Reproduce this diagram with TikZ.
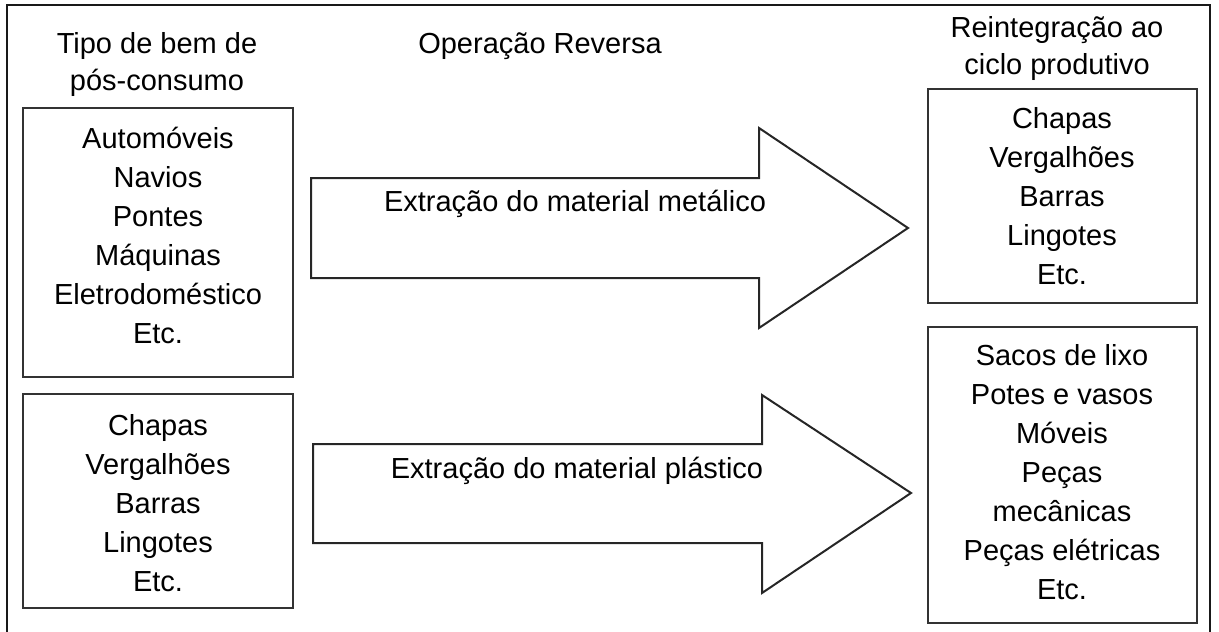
\documentclass[tikz,border=0pt]{standalone}
\usepackage{fontspec}
\setmainfont{Liberation Sans}
\begin{document}
\begin{tikzpicture}[x=1pt,y=-1pt,
  boxst/.style={draw=black!80,line width=2.2pt},
  arrowst/.style={draw=black!85,line width=2pt,line join=miter},
  txt/.style={anchor=base,inner sep=0pt,font=\fontsize{29}{39}\selectfont},
  hdr/.style={anchor=base,inner sep=0pt,font=\fontsize{29}{37}\selectfont}]
\useasboundingbox (0,0) rectangle (1219,632);
% outer frame (bottom edge lies outside the picture)
\draw[line width=2pt,black!90] (7,640) -- (7,5) -- (1210,5) -- (1210,640);
% headers
\node[hdr] (h1) at (157,53) {\renewcommand\arraystretch{1}\begin{tabular}[t]{@{}c@{}}Tipo de bem de\\pós-consumo\end{tabular}};
\node[hdr] (h2) at (540,53) {Operação Reversa};
\node[hdr] (h3) at (1057,37) {\renewcommand\arraystretch{1}\begin{tabular}[t]{@{}c@{}}Reintegração ao\\ciclo produtivo\end{tabular}};
% boxes
\draw[boxst] (23,108) rectangle (293,377);
\draw[boxst] (23,394) rectangle (293,608);
\draw[boxst] (928,89) rectangle (1197,303);
\draw[boxst] (928,327) rectangle (1197,623);
% box texts
\node[txt] (l1) at (158,148) {\renewcommand\arraystretch{1}\begin{tabular}[t]{@{}c@{}}Automóveis\\Navios\\Pontes\\Máquinas\\Eletrodoméstico\\Etc.\end{tabular}};
\node[txt] (l2) at (158,435) {\renewcommand\arraystretch{1}\begin{tabular}[t]{@{}c@{}}Chapas\\Vergalhões\\Barras\\Lingotes\\Etc.\end{tabular}};
\node[txt] (r1) at (1062,128) {\renewcommand\arraystretch{1}\begin{tabular}[t]{@{}c@{}}Chapas\\Vergalhões\\Barras\\Lingotes\\Etc.\end{tabular}};
\node[txt] (r2) at (1062,365) {\renewcommand\arraystretch{1}\begin{tabular}[t]{@{}c@{}}Sacos de lixo\\Potes e vasos\\Móveis\\Peças\\mecânicas\\Peças elétricas\\Etc.\end{tabular}};
% arrows
\draw[arrowst] (311,178) -- (759,178) -- (759,128) -- (908,228) -- (759,328) -- (759,278) -- (311,278) -- cycle;
\draw[arrowst] (313,444) -- (762,444) -- (762,395) -- (911,493) -- (762,593) -- (762,543) -- (313,543) -- cycle;
\node[txt] (a1) at (575,211) {Extração do material metálico};
\node[txt] (a2) at (577,478) {Extração do material plástico};
\end{tikzpicture}
\end{document}
